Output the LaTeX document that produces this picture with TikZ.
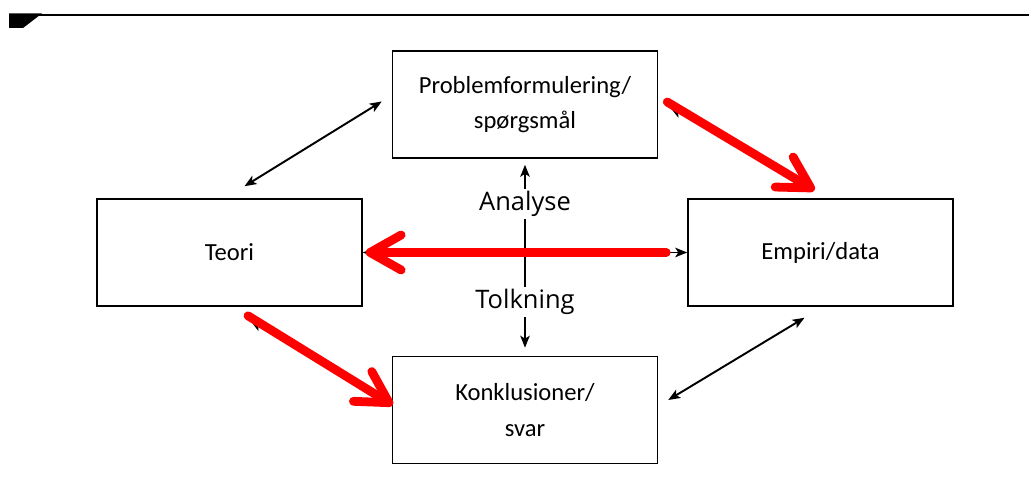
\documentclass[tikz,border=0pt]{standalone}
\usepackage{fontspec}
\setmainfont{Carlito}
\newfontfamily\labelfont{Open Sans}
\usetikzlibrary{arrows.meta,calc}

\begin{document}
\begin{tikzpicture}[x=0.02cm, y=-0.02cm,
  box/.style = {draw, line width=0.9pt, shape = rectangle, minimum width = 5.3cm, minimum height = 2.14cm, align = center, font = \fontsize{14}{20}\selectfont},
  dblarr/.style = {line width=1.1pt, {Stealth[length=2.4mm,width=1.9mm,inset=0.6mm]}-{Stealth[length=2.4mm,width=1.9mm,inset=0.6mm]}},
  redarr/.style = {red, line width=5pt, line cap=round, -{Straight Barb[length=6.2mm,width=7mm,round]}},
  lbl/.style = {fill = white, inner sep = 1.5pt, font = \labelfont\fontsize{14.5}{16}\selectfont}]
\useasboundingbox (0,0) rectangle (1029,496);
\fill (9,13.5) -- (42,13.5) -- (23,28) -- (9,28) -- cycle;
\draw[line width=1.4pt] (30,14.8) -- (1029,14.8);

\node[box] (prob) at (525,104.5) {Problemformulering/\\spørgsmål};
\node[box] (teori) at (229.5,252.5) {Teori};
\node[box] (emp) at (820.5,252.5) {Empiri/data};
\node[box] (konk) at (525,410) {Konklusioner/\\svar};

\draw[dblarr] ($(prob.west)+(-10,-3)$) -- ($(teori.north)+(15,-12)$);
\draw[dblarr] ($(emp.south)+(-16,11)$) -- ($(konk.east)+(10,-10)$);
\draw[dblarr] ($(prob.east)+(12,3)$) -- ($(emp.north)+(-6,-8)$);
\draw[dblarr] ($(teori.south)+(21,14)$) -- ($(konk.west)+(1,-5)$);
\draw[dblarr] (teori.east) -- (emp.west);
\draw[dblarr] ($(prob.south)+(0,6)$) -- node[lbl, pos=0.215] {Analyse} node[lbl, pos=0.75] {Tolkning} ($(konk.north)+(0,-8)$);

\draw[redarr] ($(prob.east)+(9,-2.5)$) -- ($(emp.north)+(-6,-8)$);
\draw[redarr] ($(emp.west)+(-21,0)$) -- ($(teori.east)+(3,0)$);
\draw[redarr] ($(teori.south)+(18.5,9)$) -- ($(konk.west)+(1,-5)$);
\end{tikzpicture}
\end{document}
